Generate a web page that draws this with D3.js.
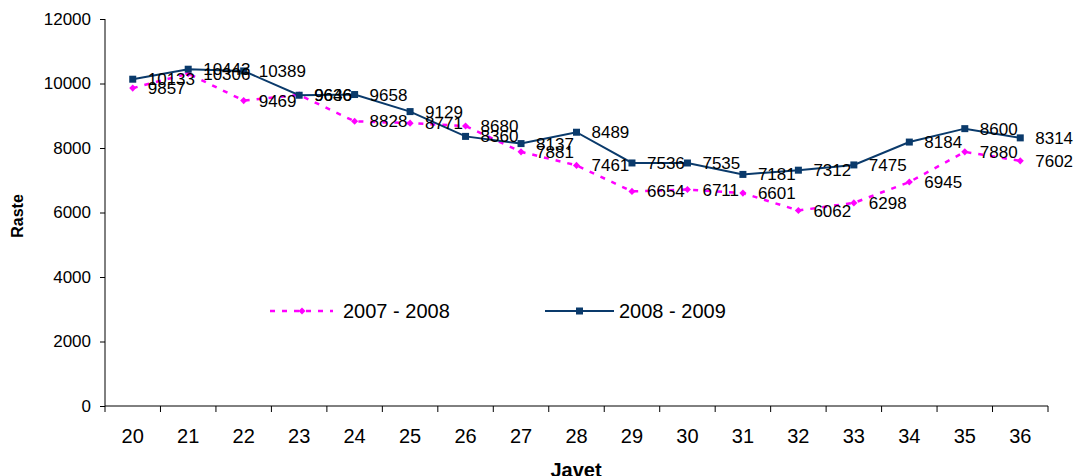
<!DOCTYPE html>
<html>
<head>
<meta charset="utf-8">
<script src="https://cdn.jsdelivr.net/npm/d3@7"></script>
<style>
  body { margin: 0; background: #fff; }
  svg text { font-family: "Liberation Sans", Arial, sans-serif; }
</style>
</head>
<body>
<div id="chart"></div>
<script>
// data
const weeks = ["20","21","22","23","24","25","26","27","28","29","30","31","32","33","34","35","36"];
const season0708 = [9857, 10306, 9469, 9646, 8828, 8771, 8680, 7881, 7461, 6654, 6711, 6601, 6062, 6298, 6945, 7880, 7602];
const season0809 = [10133, 10443, 10389, 9636, 9658, 9129, 8360, 8137, 8489, 7536, 7535, 7181, 7312, 7475, 8184, 8600, 8314];
const yTicks = [0, 2000, 4000, 6000, 8000, 10000, 12000];
const seriesNames = ["2007 - 2008", "2008 - 2009"];

const W = 1081, H = 476;
const margin = {top: 19, right: 33, bottom: 70, left: 105};
const width = W - margin.left - margin.right;
const height = H - margin.top - margin.bottom;

const svg = d3.select("#chart").append("svg")
  .attr("width", W).attr("height", H);

const g = svg.append("g")
  .attr("transform", `translate(${margin.left},${margin.top})`);

const x = d3.scaleBand().domain(weeks).range([0, width]);
const y = d3.scaleLinear().domain([0, 12000]).range([height, 0]);

// y axis
const yAxis = g.append("g")
  .call(d3.axisLeft(y).tickValues(yTicks).tickFormat(d3.format("d")).tickSize(5).tickPadding(9));
yAxis.selectAll("text").attr("font-size", 17).attr("fill", "#000")
  .style("font-family", "Liberation Sans, Arial, sans-serif");
yAxis.select(".domain").attr("stroke", "#000").attr("d", `M0,0V${height}`);
yAxis.selectAll(".tick line").attr("stroke", "#000");

// x axis: ticks at band boundaries, labels centred on bands
const xAxisG = g.append("g").attr("transform", `translate(0,${height})`);
xAxisG.append("line").attr("x1", 0).attr("x2", width).attr("stroke", "#000");
const bounds = weeks.map(w => x(w)).concat([width]);
xAxisG.selectAll("line.tk").data(bounds).enter().append("line")
  .attr("class", "tk")
  .attr("x1", d => d).attr("x2", d => d)
  .attr("y1", 0).attr("y2", 6).attr("stroke", "#000");
xAxisG.selectAll("text").data(weeks).enter().append("text")
  .attr("x", d => x(d) + x.bandwidth() / 2)
  .attr("y", 37)
  .attr("text-anchor", "middle")
  .attr("font-size", 20)
  .text(d => d);

// axis titles
svg.append("text")
  .attr("x", 576)
  .attr("y", 477)
  .attr("text-anchor", "middle")
  .attr("font-size", 20).attr("font-weight", "bold")
  .text("Javet");
svg.append("text")
  .attr("transform", `translate(23,${216}) rotate(-90)`)
  .attr("text-anchor", "middle")
  .attr("font-size", 16).attr("font-weight", "bold")
  .text("Raste");

const cx = d => x(d) + x.bandwidth() / 2;
const line = d3.line().x(d => cx(d.w)).y(d => y(d.v));

const s1 = weeks.map((w, i) => ({w, v: season0708[i]}));
const s2 = weeks.map((w, i) => ({w, v: season0809[i]}));

const pink = "#ff00ff", navy = "#0a3a6b";

// 2007-2008 series
g.append("path").datum(s1)
  .attr("d", line).attr("fill", "none")
  .attr("stroke", pink).attr("stroke-width", 2.5)
  .attr("stroke-dasharray", "5,7");
g.selectAll("path.dia").data(s1).enter().append("path")
  .attr("class", "dia")
  .attr("d", d3.symbol(d3.symbolDiamond2, 32))
  .attr("transform", d => `translate(${cx(d.w)},${y(d.v)})`)
  .attr("fill", pink);

// 2008-2009 series
g.append("path").datum(s2)
  .attr("d", line).attr("fill", "none")
  .attr("stroke", navy).attr("stroke-width", 2);
g.selectAll("rect.sq").data(s2).enter().append("rect")
  .attr("class", "sq")
  .attr("x", d => cx(d.w) - 3.5).attr("y", d => y(d.v) - 3.5)
  .attr("width", 7).attr("height", 7)
  .attr("fill", navy);

// value labels
[s1, s2].forEach(s => {
  g.selectAll(null).data(s).enter().append("text")
    .attr("x", d => cx(d.w) + 15)
    .attr("y", d => y(d.v) + 6)
    .attr("font-size", 17)
    .text(d => d.v);
});

// legend
const lg = svg.append("g");
lg.append("line").attr("x1", 270).attr("x2", 333).attr("y1", 311).attr("y2", 311)
  .attr("stroke", pink).attr("stroke-width", 2.5).attr("stroke-dasharray", "5,7");
lg.append("path").attr("d", d3.symbol(d3.symbolDiamond2, 32))
  .attr("transform", "translate(302,311)").attr("fill", pink);
lg.append("text").attr("x", 343).attr("y", 318).attr("font-size", 20).text(seriesNames[0]);
lg.append("line").attr("x1", 545).attr("x2", 614).attr("y1", 311).attr("y2", 311)
  .attr("stroke", navy).attr("stroke-width", 2);
lg.append("rect").attr("x", 576).attr("y", 307.5).attr("width", 7).attr("height", 7).attr("fill", navy);
lg.append("text").attr("x", 619).attr("y", 318).attr("font-size", 20).text(seriesNames[1]);
</script>
</body>
</html>
